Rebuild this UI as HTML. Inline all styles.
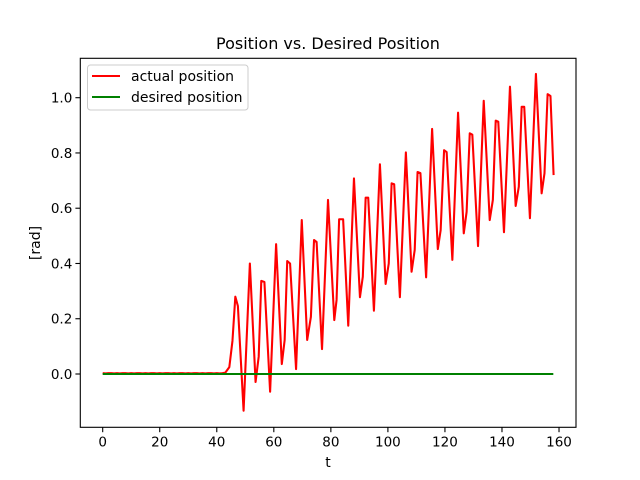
<!DOCTYPE html>
<html><head><meta charset="utf-8">
<style>
body{margin:0;background:#fff;}
svg{display:block;font-family:"DejaVu Sans","Liberation Sans",sans-serif;}
</style></head>
<body>
<svg id="chart" width="640" height="480" viewBox="0 0 640 480" xmlns="http://www.w3.org/2000/svg">
<rect x="0" y="0" width="640" height="480" fill="#fff"/>
<text x="328" y="49" font-size="16" text-anchor="middle" fill="#000">Position vs. Desired Position</text>
<g id="plot"></g>
<text x="328" y="467" font-size="14" text-anchor="middle" fill="#000">t</text>
<text transform="translate(40,243) rotate(-90)" font-size="14" text-anchor="middle" fill="#000">[rad]</text>
<g>
<rect x="87.5" y="65" width="160.5" height="45" rx="3" fill="#fff" fill-opacity="0.8" stroke="#ccc" stroke-width="1"/>
<line x1="92" y1="76" x2="120" y2="76" stroke="#ff0000" stroke-width="2.08"/>
<text x="131" y="81" font-size="14" fill="#000">actual position</text>
<line x1="92" y1="97" x2="120" y2="97" stroke="#008000" stroke-width="2.08"/>
<text x="131" y="102" font-size="14" fill="#000">desired position</text>
</g>
</svg>
<script>
const flatT = [0,1,2,3,4,5,6,7,8,9,10,11,12,13,14,15,16,17,18,19,20,21,22,23,24,25,26,27,28,29,30,31,32,33,34,35,36,37,38,39,40,41,42,43];
const flatV = [0.003,0.002,0.003,0.003,0.002,0.003,0.002,0.003,0.003,0.002,0.003,0.002,0.003,0.003,0.002,0.003,0.002,0.003,0.003,0.002,0.003,0.002,0.003,0.003,0.002,0.003,0.002,0.003,0.003,0.002,0.003,0.002,0.003,0.003,0.002,0.003,0.002,0.003,0.003,0.002,0.003,0.002,0.003,0.005];
const riseT = [44.4,45.5,46.5,47.4,49.4,51.6,53.6,54.7,55.6,56.7,58.7,60.8,62.8,63.8,64.7,65.7,67.8,69.8,71.7,73.0,74.1,75.0,76.9,79.0,81.2,82.0,82.9,84.3,86.1,88.1,90.2,91.2,92.2,93.1,95.1,97.2,99.2,100.3,101.3,102.2,104.2,106.3,108.3,109.4,110.4,111.4,113.4,115.5,117.5,118.5,119.7,120.6,122.6,124.6,126.6,127.6,128.7,129.6,131.6,133.6,135.7,136.8,137.8,138.7,140.7,142.8,144.8,145.9,146.9,147.8,149.8,151.9,153.9,154.9,156,157,158.1];
const riseV = [0.025,0.12,0.28,0.246,-0.133,0.40,-0.029,0.063,0.337,0.333,-0.064,0.47,0.036,0.123,0.409,0.40,0.018,0.557,0.123,0.207,0.485,0.478,0.09,0.63,0.195,0.268,0.56,0.56,0.175,0.708,0.278,0.352,0.638,0.638,0.229,0.759,0.326,0.40,0.69,0.687,0.278,0.802,0.37,0.449,0.731,0.727,0.35,0.887,0.452,0.521,0.81,0.803,0.413,0.946,0.509,0.587,0.871,0.866,0.463,0.989,0.557,0.63,0.917,0.913,0.513,1.04,0.608,0.678,0.967,0.967,0.564,1.086,0.654,0.726,1.013,1.006,0.72];
const desiredT = [0,158];
const desiredV = [0,0];
const xTicks = [0,20,40,60,80,100,120,140,160];
const yTicks = [0.0,0.2,0.4,0.6,0.8,1.0];
const yTickLabels = ["0.0","0.2","0.4","0.6","0.8","1.0"];

const L=80.3,R=576,T=58.3,B=427.3;
const xs = t => 102.7 + t*2.852;
const ys = v => 374 - v*276.3;
const NS="http://www.w3.org/2000/svg";
const g=document.getElementById('plot');
function mk(tag,attrs){const e=document.createElementNS(NS,tag);for(const k in attrs)e.setAttribute(k,attrs[k]);return e;}

const actualT = flatT.concat(riseT), actualV = flatV.concat(riseV);
const desired = mk('polyline',{points:desiredT.map((t,i)=>xs(t)+','+ys(desiredV[i])).join(' '),fill:'none',stroke:'#008000','stroke-width':2.08});


g.appendChild(desired);
const actual = mk('polyline',{points:actualT.map((t,i)=>xs(t)+','+ys(actualV[i])).join(' '),fill:'none',stroke:'#ff0000','stroke-width':2.08,'stroke-linejoin':'round'});


g.insertBefore(actual, desired);

xTicks.forEach(t=>{
  const x=xs(t);
  const tk=mk('line',{x1:x,y1:B,x2:x,y2:B+4.9,stroke:'#000','stroke-width':1.1});
  
  
  g.appendChild(tk);
  const tx=mk('text',{x:x,y:B+19,'font-size':13.5,'text-anchor':'middle',fill:'#000'});
  tx.textContent=String(t);
  
  
  g.appendChild(tx);
});
yTicks.forEach((v,i)=>{
  const y=ys(v);
  const tk=mk('line',{x1:L-4.9,y1:y,x2:L,y2:y,stroke:'#000','stroke-width':1.1});
  
  
  g.appendChild(tk);
  const tx=mk('text',{x:L-8,y:y+5,'font-size':13.5,'text-anchor':'end',fill:'#000'});
  tx.textContent=yTickLabels[i];
  
  
  g.appendChild(tx);
});
const frame=mk('rect',{x:L,y:T,width:R-L,height:B-T,fill:'none',stroke:'#000','stroke-width':1.1});


g.appendChild(frame);
</script>
</body></html>
